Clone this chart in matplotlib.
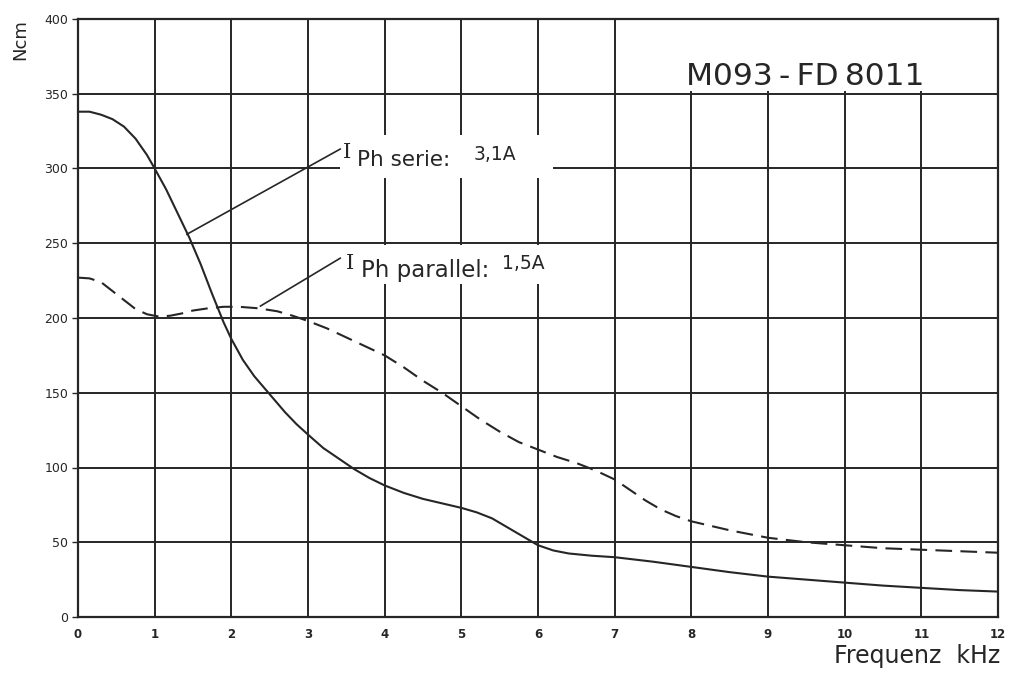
import matplotlib
matplotlib.use("Agg")
import matplotlib.pyplot as plt
from matplotlib.patches import Rectangle

# ---- data ----
x_serie = [0, 0.15, 0.3, 0.45, 0.6, 0.75, 0.9, 1, 1.15, 1.3, 1.45, 1.6, 1.75, 1.9, 2,
           2.15, 2.3, 2.5, 2.7, 2.85, 3, 3.2, 3.4, 3.6, 3.8, 4, 4.25, 4.5, 4.75, 5,
           5.2, 5.4, 5.6, 5.8, 6, 6.2, 6.4, 6.7, 7, 7.5, 8, 8.5, 9, 9.5, 10, 10.5,
           11, 11.5, 12]
y_serie = [338, 338, 336, 333, 328, 320, 309, 300, 286, 270, 254, 236, 216, 197, 186,
           172, 161, 149, 137, 129, 122, 113, 106, 99, 93, 88, 83, 79, 76, 73,
           70, 66, 60, 54, 48, 44.5, 42.5, 41, 40, 37, 33.5, 30, 27, 25, 23, 21,
           19.5, 18, 17]

x_par = [0, 0.15, 0.3, 0.45, 0.6, 0.75, 0.9, 1.05, 1.2, 1.35, 1.5, 1.7, 1.9, 2.1,
         2.35, 2.6, 2.8, 3, 3.25, 3.5, 3.75, 4, 4.25, 4.5, 4.75, 5, 5.25, 5.5, 5.75,
         6, 6.25, 6.5, 6.75, 7, 7.2, 7.4, 7.6, 7.8, 8, 8.25, 8.5, 8.75, 9, 9.5, 10,
         10.5, 11, 11.5, 12]
y_par = [227, 226.5, 224, 218, 212, 206, 202.5, 201, 201.5, 203, 205, 206.5, 207.5, 207.5,
         206.5, 204.5, 201.5, 198, 193, 187, 181, 175, 167, 158, 150, 141, 132, 124, 117,
         112, 107, 103, 98, 92, 85, 78, 72, 67.5, 64, 61, 58, 55.5, 53, 50, 48,
         46, 45, 44, 43]

x_ticks = list(range(0, 13))
y_ticks = list(range(0, 401, 50))

title_text = "M093\u2009-\u2009FD\u20098011"
xlabel_text = "Frequenz  kHz"
ylabel_text = "Ncm"

# ---- figure ----
ink = "#262626"
fig = plt.figure(figsize=(10.12, 6.74), dpi=100)
ax = fig.add_axes([78 / 1012, 57 / 674, 920 / 1012, 598 / 674])
ax.set_xlim(0, 12)
ax.set_ylim(0, 400)
ax.set_xticks(x_ticks)
ax.set_yticks(y_ticks)
ax.set_xticklabels([str(v) for v in x_ticks], fontsize=8.5, color=ink, fontweight="bold")
ax.set_yticklabels([str(v) for v in y_ticks], fontsize=9, color=ink)
ax.tick_params(axis="x", length=0, pad=8)
ax.tick_params(axis="y", length=4, width=1.0, color=ink, pad=3)
ax.grid(True, color=ink, linewidth=1.4, zorder=1)
ax.set_axisbelow(True)
for s in ax.spines.values():
    s.set_color(ink)
    s.set_linewidth(1.6)
    s.set_zorder(4)

# white areas that interrupt the grid (label boxes)
for (x0, y0, w, h) in [(7.03, 352, 4.94, 48), (3.42, 293.5, 2.78, 29), (3.42, 223, 2.78, 26)]:
    ax.add_patch(Rectangle((x0, y0), w, h, facecolor="white", edgecolor="none", zorder=1.5))

ax.plot(x_serie, y_serie, color=ink, linewidth=1.5, zorder=3, solid_joinstyle="round")
ax.plot(x_par, y_par, color=ink, linewidth=1.5, linestyle=(0, (8, 4)), zorder=3)

# leader lines
ax.plot([1.42, 3.42], [256, 313], color=ink, linewidth=1.2, zorder=3)
ax.plot([2.38, 3.42], [208, 240], color=ink, linewidth=1.2, zorder=3)

# labels
ax.text(3.45, 307, "I", fontsize=15, color=ink, ha="left", va="baseline", zorder=5,
        family="DejaVu Serif")
ax.text(3.64, 302, "Ph serie:", fontsize=15.5, color=ink, ha="left", va="baseline", zorder=5)
ax.text(5.16, 306, "3,1A", fontsize=13.5, color=ink, ha="left", va="baseline", zorder=5)

ax.text(3.5, 233, "I", fontsize=15, color=ink, ha="left", va="baseline", zorder=5,
        family="DejaVu Serif")
ax.text(3.69, 227.3, "Ph parallel:", fontsize=16.5, color=ink, ha="left", va="baseline", zorder=5)
ax.text(5.53, 233, "1,5A", fontsize=13.5, color=ink, ha="left", va="baseline", zorder=5)

ax.text(7.93, 356, title_text, fontsize=22.5, color=ink, ha="left", va="baseline", zorder=5)

fig.text(20 / 1012, 1 - 40 / 674, ylabel_text, rotation=90, fontsize=13, color=ink,
         ha="center", va="center")
fig.text(1000 / 1012, 1 - 656 / 674, xlabel_text, fontsize=17, color=ink,
         ha="right", va="center")

fig.savefig("out.png", dpi=100, facecolor="white")
